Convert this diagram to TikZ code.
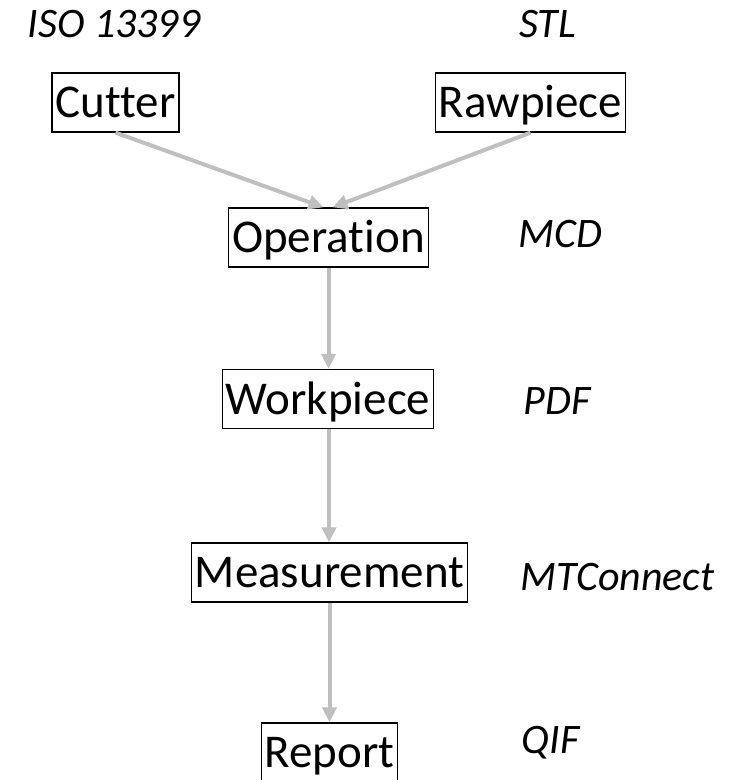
\documentclass[tikz,border=0pt]{standalone}
\usepackage{fontspec}
\setmainfont{Carlito}[Ligatures={NoCommon}]
\usetikzlibrary{arrows.meta}
\definecolor{flowgray}{HTML}{BFBFBF}
\tikzset{
  stage/.style={draw=black, line width=1.3pt, font=\fontsize{47}{50}\selectfont,
    text height=30.3pt, text depth=0pt, inner xsep=3.5pt, inner ysep=14.35pt},
  fmt/.style={font=\fontsize{42}{45}\selectfont\itshape,
    text height=27pt, text depth=0pt, inner sep=0pt},
  flow/.style={draw=flowgray, line width=4pt,
    -{Triangle[length=15pt, width=14pt]}, shorten >=0pt}
}
\begin{document}
\begin{tikzpicture}[x=1pt, y=-1pt]
  \useasboundingbox (0,0) rectangle (738,780);

  % process stages
  \node[stage] (cutter)  at (115.5,102.5) {Cutter};
  \node[stage] (raw)     at (530.5,102.5) {Rawpiece};
  \node[stage] (op)      at (328.5,237.5) {Operation};
  \node[stage] (work)    at (328,399)     {Workpiece};
  \node[stage] (meas)    at (329.5,572.5) {Measurement};
  \node[stage] (report)  at (329.5,752.5) {Report};

  % data formats
  \node[fmt] (iso)   at (114,23.5)   {ISO 13399};
  \node[fmt] (stl)   at (547.5,23.5) {STL};
  \node[fmt] (mcd)   at (560.5,233.5){MCD};
  \node[fmt] (pdf)   at (557,400.5)  {PDF};
  \node[fmt] (mtc)   at (617.5,577)  {MTConnect};
  \node[fmt] (qif)   at (550.5,739.5){QIF};

  % flow between stages
  \draw[flow] (cutter.south) -- ([xshift=-5pt]op.north);
  \draw[flow] (raw.south) -- ([xshift=4pt]op.north);
  \draw[flow] (op.south) -- (work.north -| op.south);
  \draw[flow] (work.south) ++(1pt,0) coordinate (ws) -- (meas.north -| ws);
  \draw[flow] (meas.south) -- (report.north);
\end{tikzpicture}
\end{document}
